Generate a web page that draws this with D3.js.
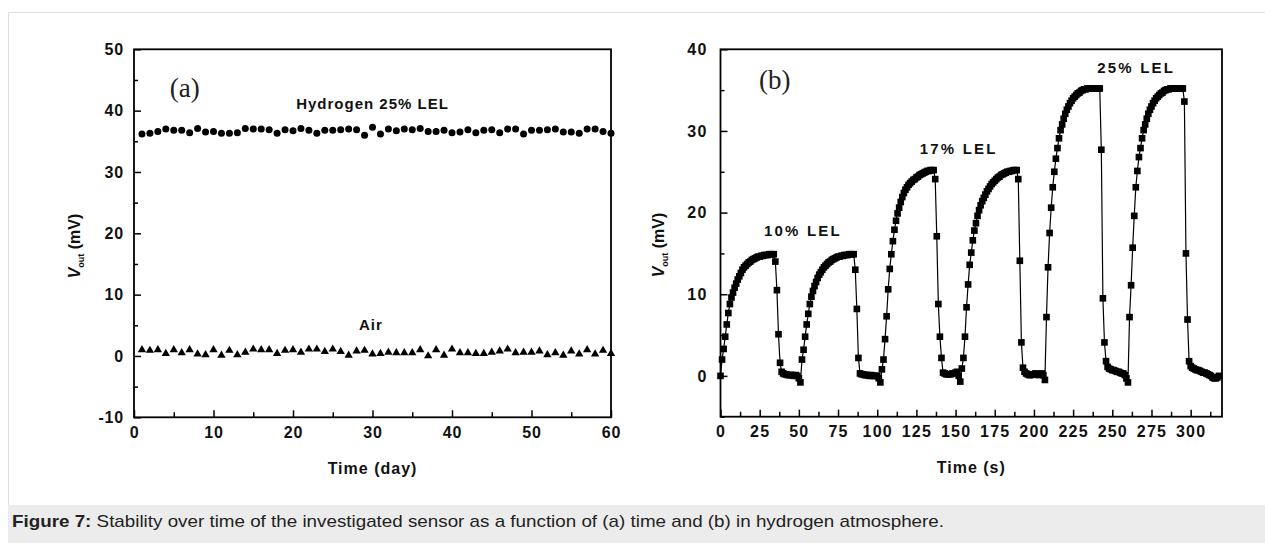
<!DOCTYPE html>
<html><head><meta charset="utf-8">
<script src="https://cdn.jsdelivr.net/npm/d3@7"></script>
<style>
body{margin:0;background:#fff;}
svg{display:block;}
</style></head><body>
<svg id="chart" width="1265" height="543"></svg>
<script>
// ---------------- DATA ----------------
// Panel (a): stability over 60 days
const daysA = [1,2,3,4,5,6,7,8,9,10,11,12,13,14,15,16,17,18,19,20,
  21,22,23,24,25,26,27,28,29,30,31,32,33,34,35,36,37,38,39,40,
  41,42,43,44,45,46,47,48,49,50,51,52,53,54,55,56,57,58,59,60];
const hydrogenA = [36.2,36.3,36.6,37.0,36.8,36.8,36.4,37.1,36.5,36.6,
  36.3,36.3,36.4,37.1,37.0,37.0,36.9,36.3,36.9,36.7,
  37.1,36.8,36.3,36.8,36.8,36.9,37.0,36.9,36.0,37.3,
  36.2,37.0,36.7,37.0,36.9,37.1,36.6,36.6,36.8,36.4,
  36.5,36.9,36.4,36.8,36.9,36.4,37.0,37.0,36.2,36.8,
  36.8,36.9,37.0,36.5,36.5,36.3,37.0,37.0,36.6,36.3];
const airA = [1.0,0.9,1.0,0.4,1.0,0.5,1.0,0.3,0.2,1.0,
  0.1,0.9,0.2,0.6,1.1,1.0,1.0,0.4,0.9,1.0,
  0.6,1.1,1.1,0.7,1.1,0.7,0.1,0.8,0.9,0.3,
  0.4,0.6,0.5,0.5,0.5,1.0,0.0,1.0,0.1,1.1,
  0.5,0.5,0.4,0.4,0.6,0.8,1.1,0.5,0.6,0.6,
  0.8,0.2,0.5,0.1,0.8,0.3,1.0,0.3,0.9,0.4];
const xTicksA = [0,10,20,30,40,50,60];
const yTicksA = [-10,0,10,20,30,40,50];

// Panel (b): response cycles, sampled every second (t = 0..318 s)
const voutB = [
  // cycle 1 (10% LEL)
  0.0,2.0,3.3,4.8,6.3,7.7,8.8,9.6,10.2,10.8,
  11.3,11.8,12.2,12.6,13.0,13.3,13.5,13.7,13.9,14.0,
  14.2,14.3,14.4,14.5,14.6,14.6,14.7,14.7,14.8,14.8,
  14.8,14.9,14.9,14.9,14.9,
  14.0,10.5,5.1,1.6,0.5,
  0.3,0.2,0.2,0.1,0.1,0.1,0.1,0.0,0.1,0.0,
  -0.3,-0.8,
  // cycle 2 (10% LEL)
  2.0,3.2,4.8,6.3,7.6,8.8,9.7,10.4,
  11.0,11.5,12.0,12.4,12.7,13.0,13.3,13.5,13.7,13.9,
  14.0,14.2,14.3,14.4,14.5,14.6,14.6,14.7,14.7,14.8,
  14.8,14.8,14.9,14.9,14.9,14.9,
  13.0,8.2,2.2,0.3,
  0.2,0.2,0.1,0.1,0.1,0.0,0.1,0.0,0.0,0.0,
  0.0,-0.3,-0.8,
  // cycle 3 (17% LEL)
  0.8,2.0,4.5,7.3,10.6,13.1,14.9,
  16.5,17.9,19.0,19.9,20.6,21.3,21.9,22.4,22.8,23.1,
  23.4,23.6,23.8,24.0,24.1,24.3,24.4,24.6,24.7,24.8,
  24.9,25.0,25.1,25.1,25.2,25.2,25.2,
  24.1,17.1,8.8,
  4.8,2.2,0.4,0.3,0.2,0.2,0.2,0.2,0.3,0.3,
  0.4,0.5,0.0,-0.7,
  // cycle 4 (17% LEL)
  0.9,2.2,4.8,8.4,11.2,13.6,
  15.1,16.6,17.8,18.7,19.6,20.3,20.9,21.4,21.8,22.2,
  22.6,22.9,23.2,23.5,23.7,23.9,24.1,24.3,24.4,24.6,
  24.7,24.8,24.9,25.0,25.0,25.1,25.1,25.2,25.2,25.2,
  24.1,14.1,4.1,1.0,0.5,0.3,0.2,0.1,0.1,0.2,
  0.2,0.3,0.2,0.1,0.2,0.3,0.1,-0.5,
  // cycle 5 (25% LEL)
  7.2,13.3,
  17.5,20.6,23.1,25.0,26.6,27.9,29.1,30.1,30.8,31.5,
  32.1,32.6,33.0,33.4,33.7,34.0,34.2,34.4,34.6,34.7,
  34.9,35.0,35.1,35.1,35.2,35.2,35.2,35.2,35.2,35.2,
  35.2,35.2,35.2,
  27.7,9.5,4.1,1.8,1.1,0.9,0.8,
  0.7,0.7,0.6,0.5,0.5,0.4,0.3,0.3,0.1,-0.3,
  -0.8,
  // cycle 6 (25% LEL)
  7.2,11.1,15.7,19.6,23.1,25.1,26.8,27.9,29.1,
  30.1,30.8,31.5,32.1,32.6,33.0,33.4,33.7,34.0,34.2,
  34.4,34.6,34.7,34.9,35.0,35.1,35.1,35.2,35.2,35.2,
  35.2,35.2,35.2,35.2,35.2,35.2,
  33.6,15.0,6.9,1.8,
  1.2,1.0,0.9,0.8,0.7,0.7,0.6,0.5,0.4,0.4,
  0.3,0.2,0.1,0.0,-0.2,-0.3,-0.3,-0.2,0.0
];
const sampleStepB = 1; // seconds between samples
const timeB = voutB.map((_, i) => i * sampleStepB);
const xTicksB = [0,25,50,75,100,125,150,175,200,225,250,275,300];
const yTicksB = [0,10,20,30,40];

const caption = ["Figure 7:", " Stability over time of the investigated sensor as a function of (a) time and (b) in hydrogen atmosphere."];

// ---------------- DRAWING ----------------
const SANS = "'Liberation Sans', Arial, Helvetica, sans-serif";
const SERIF = "'Liberation Serif', 'Times New Roman', serif";
const svg = d3.select("#chart");
const fmt = d => String(d); // plain hyphen for negatives, as in the original

// outer figure frame + caption band
svg.append("line").attr("x1",8.5).attr("x2",1265).attr("y1",12.5).attr("y2",12.5)
  .attr("stroke","#dddddd").attr("stroke-width",1);
svg.append("line").attr("x1",8.5).attr("x2",8.5).attr("y1",12.5).attr("y2",505)
  .attr("stroke","#dddddd").attr("stroke-width",1);
svg.append("rect").attr("x",8).attr("y",505).attr("width",1257).attr("height",38).attr("fill","#ececec");
const cap = svg.append("text").attr("x",12).attr("y",527).attr("font-family",SANS).attr("font-size",17)
  .attr("fill","#222").attr("textLength",932).attr("lengthAdjust","spacingAndGlyphs");
cap.append("tspan").attr("font-weight","bold").text(caption[0]);
cap.append("tspan").text(caption[1]);

function drawAxes(g, x, y, o) {
  const [bottom, top] = y.range();
  const [left, right] = x.range();
  const styleAxis = sel => {
    sel.select(".domain").remove();
    sel.selectAll(".tick line").attr("stroke","#000").attr("stroke-width",1.5);
    sel.selectAll("text").attr("font-family",SANS).attr("font-size",16)
      .attr("font-weight","bold").attr("fill","#111").style("letter-spacing", o.ls + "px");
  };
  g.append("g").attr("transform",`translate(0,${bottom})`)
    .call(d3.axisBottom(x).tickValues(o.xTicks).tickFormat(fmt).tickSizeInner(-7).tickSizeOuter(0).tickPadding(9))
    .call(styleAxis);
  g.append("g").attr("transform",`translate(0,${bottom})`)
    .call(d3.axisBottom(x).tickValues(o.xMinor).tickSizeInner(-5).tickSizeOuter(0).tickFormat(() => ""))
    .call(styleAxis);
  g.append("g").attr("transform",`translate(${left},0)`)
    .call(d3.axisLeft(y).tickValues(o.yTicks).tickFormat(fmt).tickSizeInner(-7).tickSizeOuter(0).tickPadding(o.yPad))
    .call(styleAxis);
  g.append("g").attr("transform",`translate(${left},0)`)
    .call(d3.axisLeft(y).tickValues(o.yMinor).tickSizeInner(-4).tickSizeOuter(0).tickFormat(() => ""))
    .call(styleAxis);
  g.append("rect").attr("x",left).attr("y",top).attr("width",right-left).attr("height",bottom-top)
    .attr("fill","none").attr("stroke","#000").attr("stroke-width",1.8);
  // x title
  g.append("text").attr("x",(left+right)/2).attr("y",o.xTitleY).attr("text-anchor","middle")
    .attr("font-family",SANS).attr("font-size",16).attr("font-weight","bold").attr("fill","#111")
    .style("letter-spacing","1px").text(o.xTitle);
  // y title
  const yt = g.append("text").attr("transform",`translate(${o.yTitleX},${o.yTitleY}) rotate(-90)`)
    .attr("text-anchor","middle").attr("font-family",SANS).attr("font-size",16)
    .attr("font-weight","bold").attr("fill","#111");
  yt.append("tspan").attr("font-style","italic").text("V");
  yt.append("tspan").attr("font-size",9).attr("dy",4).text("out");
  yt.append("tspan").attr("dy",-4).text(" (mV)");
  // panel letter
  g.append("text").attr("x",x(o.letterPos[0])).attr("y",y(o.letterPos[1]))
    .attr("font-family",SERIF).attr("font-size",27).attr("fill","#222").text(o.letter);
}

function annotate(g, x, y, txt, pos, ls) {
  g.append("text").attr("x",x(pos[0])).attr("y",y(pos[1])).attr("text-anchor","middle")
    .attr("font-family",SANS).attr("font-size",15).attr("font-weight","bold").attr("fill","#111")
    .style("letter-spacing", ls + "px").text(txt);
}

// ----- Panel (a)
const gA = svg.append("g");
const xA = d3.scaleLinear().domain([0,60]).range([134,611]);
const yA = d3.scaleLinear().domain([-10,50]).range([417.3,49.3]);
drawAxes(gA, xA, yA, {
  xTicks: xTicksA, xMinor: [5,15,25,35,45,55],
  yTicks: yTicksA, yMinor: [-5,5,15,25,35,45],
  yPad: 10, ls: 0.8, xTitle: "Time (day)", xTitleY: 474,
  yTitleX: 80, yTitleY: 246, letter: "(a)", letterPos: [4.5, 42.2]
});
gA.append("g").selectAll("circle").data(daysA).join("circle")
  .attr("cx", (d) => xA(d)).attr("cy", (d, i) => yA(hydrogenA[i])).attr("r",3.5).attr("fill","#000");
gA.append("g").selectAll("path").data(daysA).join("path")
  .attr("d", d3.symbol(d3.symbolTriangle, 30))
  .attr("transform", (d, i) => `translate(${xA(d)},${yA(airA[i])})`).attr("fill","#000");
annotate(gA, xA, yA, "Hydrogen 25% LEL", [30, 40.2], 1);
annotate(gA, xA, yA, "Air", [29.8, 4.2], 1);

// ----- Panel (b)
const gB = svg.append("g");
const xB = d3.scaleLinear().domain([0,320]).range([720.5,1222]);
const yB = d3.scaleLinear().domain([-5,40]).range([416.7,49.3]);
drawAxes(gB, xB, yB, {
  xTicks: xTicksB, xMinor: d3.range(12.5, 320, 25),
  yTicks: yTicksB, yMinor: [-5,5,15,25,35],
  yPad: 13, ls: 1.2, xTitle: "Time (s)", xTitleY: 473,
  yTitleX: 664, yTitleY: 245, letter: "(b)", letterPos: [24.5, 35.1]
});
const ptsB = timeB.map((t, i) => [t, voutB[i]]);
gB.append("path").datum(ptsB)
  .attr("d", d3.line().x(d => xB(d[0])).y(d => yB(d[1])))
  .attr("fill","none").attr("stroke","#000").attr("stroke-width",1.2);
gB.append("g").selectAll("path").data(ptsB).join("path")
  .attr("d", d3.symbol(d3.symbolSquare, 44))
  .attr("transform", d => `translate(${xB(d[0])},${yB(d[1])})`).attr("fill","#000");
annotate(gB, xB, yB, "10% LEL", [52.6, 17.1], 2.2);
annotate(gB, xB, yB, "17% LEL", [152, 27.2], 2.2);
annotate(gB, xB, yB, "25% LEL", [265.2, 37.1], 2.2);
</script>
</body></html>
